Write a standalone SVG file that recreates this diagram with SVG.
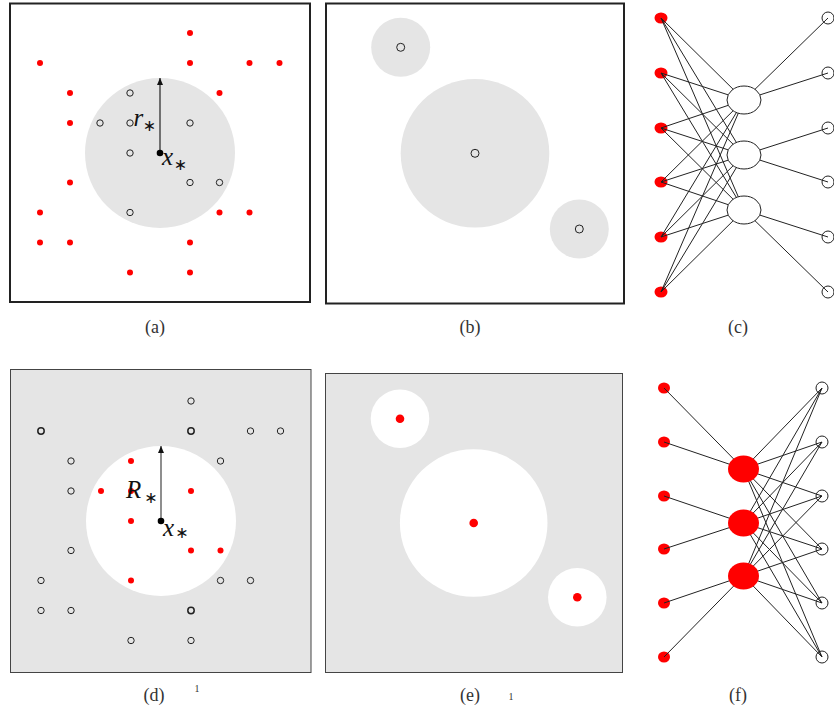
<svg xmlns="http://www.w3.org/2000/svg" width="834" height="717" viewBox="0 0 834 717">
<defs>
<style>
.frameA{fill:#fff;stroke:#222;stroke-width:2}
.frameD{fill:#e5e5e5;stroke:#444;stroke-width:1}
.red{fill:#ff0000}
.open{fill:none;stroke:#222;stroke-width:1}
.openw{fill:#fff;stroke:#222;stroke-width:1}
.edge{stroke:#222;stroke-width:1;fill:none}
.cap{font-family:"Liberation Serif","DejaVu Serif",serif;font-size:18px;fill:#333;text-anchor:middle}
.sup{font-family:"Liberation Serif","DejaVu Serif",serif;font-size:10px;fill:#333;text-anchor:middle}
.math{font-family:"Liberation Serif","DejaVu Serif",serif;font-style:italic;font-size:25px;fill:#111}
.ast{font-family:"DejaVu Sans",sans-serif;font-size:16px;fill:#111;text-anchor:middle}
</style>
<marker id="ah" viewBox="0 0 7 6" refX="7" refY="3" markerWidth="7" markerHeight="6" markerUnits="userSpaceOnUse" orient="auto">
<path d="M0,0 L7,3 L0,6 Z" fill="#111"/>
</marker>
</defs>

<!-- Panel (a) -->
<g id="panel-a">
<rect class="frameA" x="10" y="3.5" width="300" height="298.5"/>
<circle cx="160" cy="153" r="75" fill="#e5e5e5"/>
<g class="red">
<circle cx="190" cy="33" r="3"/>
<circle cx="40" cy="63" r="3"/><circle cx="190" cy="63" r="3"/><circle cx="249.5" cy="63" r="3"/><circle cx="279.5" cy="63" r="3"/>
<circle cx="70" cy="93" r="3"/><circle cx="219.5" cy="93" r="3"/>
<circle cx="70" cy="123" r="3"/>
<circle cx="70" cy="182.5" r="3"/>
<circle cx="40" cy="212.5" r="3"/><circle cx="219.5" cy="212.5" r="3"/><circle cx="249.5" cy="212.5" r="3"/>
<circle cx="40" cy="242.5" r="3"/><circle cx="70" cy="242.5" r="3"/><circle cx="190" cy="242.5" r="3"/>
<circle cx="130" cy="272.5" r="3"/><circle cx="190" cy="272.5" r="3"/>
</g>
<g class="open">
<circle cx="130" cy="93" r="3.2"/>
<circle cx="100" cy="123" r="3.2"/><circle cx="130" cy="123" r="3.2"/><circle cx="190" cy="123" r="3.2"/>
<circle cx="130" cy="153" r="3.2"/>
<circle cx="190" cy="182.5" r="3.2"/><circle cx="219.5" cy="182.5" r="3.2"/>
<circle cx="130" cy="212.5" r="3.2"/>
</g>
<line x1="160" y1="153" x2="160" y2="78" stroke="#222" stroke-width="1.2" marker-end="url(#ah)"/>
<circle cx="160" cy="153" r="3.3" fill="#000"/>
<text class="math" x="133.5" y="126">r</text><text class="ast" x="149.5" y="131">∗</text>
<text class="math" x="162" y="165">x</text><text class="ast" x="180.5" y="170">∗</text>
<text class="cap" x="155" y="333">(a)</text>
</g>

<!-- Panel (b) -->
<g id="panel-b">
<rect class="frameA" x="326" y="3.5" width="298" height="300"/>
<circle cx="400.7" cy="47.3" r="29.5" fill="#e5e5e5"/>
<circle cx="475" cy="153.3" r="74.3" fill="#e5e5e5"/>
<circle cx="579.3" cy="229" r="29.5" fill="#e5e5e5"/>
<circle class="open" cx="400.7" cy="47.3" r="4"/>
<circle class="open" cx="475" cy="153.3" r="4"/>
<circle class="open" cx="579.3" cy="229" r="4"/>
<text class="cap" x="470" y="333">(b)</text>
</g>

<!-- Panel (c) -->
<g id="panel-c">
<g id="c-left">
<ellipse id="c-l1" class="red" cx="661" cy="18" rx="6.5" ry="5.5"/>
<ellipse id="c-l2" class="red" cx="661" cy="73" rx="6.5" ry="5.5"/>
<ellipse id="c-l3" class="red" cx="661" cy="128" rx="6.5" ry="5.5"/>
<ellipse id="c-l4" class="red" cx="661" cy="182" rx="6.5" ry="5.5"/>
<ellipse id="c-l5" class="red" cx="661" cy="237" rx="6.5" ry="5.5"/>
<ellipse id="c-l6" class="red" cx="661" cy="292" rx="6.5" ry="5.5"/>
</g>
<g id="c-right">
<circle id="c-r1" class="openw" cx="828" cy="18" r="6"/>
<circle id="c-r2" class="openw" cx="828" cy="73" r="6"/>
<circle id="c-r3" class="openw" cx="828" cy="128" r="6"/>
<circle id="c-r4" class="openw" cx="828" cy="182" r="6"/>
<circle id="c-r5" class="openw" cx="828" cy="237" r="6"/>
<circle id="c-r6" class="openw" cx="828" cy="292" r="6"/>
</g>
<g id="c-edges" class="edge">
<path d="M661,18L744,100M661,18L744,155M661,18L744,210
M661,73L744,100M661,73L744,155M661,73L744,210
M661,128L744,100M661,128L744,155M661,128L744,210
M661,182L744,100M661,182L744,155M661,182L744,210
M661,237L744,100M661,237L744,155M661,237L744,210
M661,292L744,100M661,292L744,155M661,292L744,210
M744,100L828,18M744,100L828,73
M744,155L828,128M744,155L828,182
M744,210L828,237M744,210L828,292"/>
</g>
<g id="c-m1"><ellipse class="openw" cx="744" cy="100" rx="17" ry="14"/></g>
<g id="c-m2"><ellipse class="openw" cx="744" cy="155" rx="17" ry="14"/></g>
<g id="c-m3"><ellipse class="openw" cx="744" cy="210" rx="17" ry="14"/></g>
<text class="cap" x="738" y="333">(c)</text>
</g>

<!-- Panel (d) -->
<g id="panel-d">
<rect class="frameD" x="10.5" y="369.5" width="300.5" height="303"/>
<circle cx="161" cy="521" r="75" fill="#fff"/>
<g class="open">
<circle cx="191" cy="401" r="3.2"/>
<circle cx="41" cy="431" r="3.2" stroke-width="1.5"/><circle cx="191" cy="431" r="3.2" stroke-width="1.5"/><circle cx="250.5" cy="431" r="3.2"/><circle cx="280.5" cy="431" r="3.2"/>
<circle cx="71" cy="461" r="3.2"/><circle cx="220.5" cy="461" r="3.2"/>
<circle cx="71" cy="491" r="3.2"/>
<circle cx="71" cy="550.5" r="3.2"/>
<circle cx="41" cy="580.5" r="3.2"/><circle cx="220.5" cy="580.5" r="3.2"/><circle cx="250.5" cy="580.5" r="3.2"/>
<circle cx="41" cy="610.5" r="3.2"/><circle cx="71" cy="610.5" r="3.2"/><circle cx="191" cy="610.5" r="3.2" stroke-width="1.5"/>
<circle cx="131" cy="640.5" r="3.2"/><circle cx="191" cy="640.5" r="3.2"/>
</g>
<g class="red">
<circle cx="131" cy="461" r="3"/>
<circle cx="101" cy="491" r="3"/><circle cx="131" cy="491" r="3"/><circle cx="191" cy="491" r="3"/>
<circle cx="131" cy="521" r="3"/>
<circle cx="191" cy="550.5" r="3"/><circle cx="220.5" cy="550.5" r="3"/>
<circle cx="131" cy="580.5" r="3"/>
</g>
<line x1="161" y1="521" x2="161" y2="446" stroke="#444" stroke-width="1.2" marker-end="url(#ah)"/>
<circle cx="161" cy="521" r="3.3" fill="#000"/>
<text class="math" x="126" y="498" font-size="28">R</text><text class="ast" x="151" y="503">∗</text>
<text class="math" x="163" y="536">x</text><text class="ast" x="182" y="538">∗</text>
<text class="cap" x="154" y="701">(d)</text>
<text class="sup" x="197" y="692">1</text>
</g>

<!-- Panel (e) -->
<g id="panel-e">
<rect class="frameD" x="325.5" y="373.5" width="297" height="299"/>
<circle cx="400" cy="418.7" r="29.3" fill="#fff"/>
<circle cx="473.7" cy="523" r="73.8" fill="#fff"/>
<circle cx="577.3" cy="597.3" r="29.3" fill="#fff"/>
<circle class="red" cx="400" cy="418.7" r="4.3"/>
<circle class="red" cx="473.7" cy="523" r="4.3"/>
<circle class="red" cx="577.3" cy="597.3" r="4.3"/>
<text class="cap" x="470" y="701">(e)</text>
<text class="sup" x="511" y="700">1</text>
</g>

<!-- Panel (f) -->
<g id="panel-f">
<g id="f-left">
<ellipse id="f-l1" class="red" cx="664" cy="388" rx="6" ry="5.5"/>
<ellipse id="f-l2" class="red" cx="664" cy="442" rx="6" ry="5.5"/>
<ellipse id="f-l3" class="red" cx="664" cy="496" rx="6" ry="5.5"/>
<ellipse id="f-l4" class="red" cx="664" cy="549" rx="6" ry="5.5"/>
<ellipse id="f-l5" class="red" cx="664" cy="603" rx="6" ry="5.5"/>
<ellipse id="f-l6" class="red" cx="664" cy="657" rx="6" ry="5.5"/>
</g>
<g id="f-right">
<circle id="f-r1" class="openw" cx="822" cy="388" r="6"/>
<circle id="f-r2" class="openw" cx="822" cy="442" r="6"/>
<circle id="f-r3" class="openw" cx="822" cy="496" r="6"/>
<circle id="f-r4" class="openw" cx="822" cy="549" r="6"/>
<circle id="f-r5" class="openw" cx="822" cy="603" r="6"/>
<circle id="f-r6" class="openw" cx="822" cy="657" r="6"/>
</g>
<g id="f-edges" class="edge">
<path d="M664,388L743.5,469M664,442L743.5,469
M664,496L743.5,523M664,549L743.5,523
M664,603L743.5,576M664,657L743.5,576
M743.5,469L822,388M743.5,469L822,442M743.5,469L822,496M743.5,469L822,549M743.5,469L822,603M743.5,469L822,657
M743.5,523L822,388M743.5,523L822,442M743.5,523L822,496M743.5,523L822,549M743.5,523L822,603M743.5,523L822,657
M743.5,576L822,388M743.5,576L822,442M743.5,576L822,496M743.5,576L822,549M743.5,576L822,603M743.5,576L822,657"/>
</g>
<g id="f-m1"><ellipse class="red" cx="743.5" cy="469" rx="15.5" ry="13.5"/></g>
<g id="f-m2"><ellipse class="red" cx="743.5" cy="523" rx="15.5" ry="13.5"/></g>
<g id="f-m3"><ellipse class="red" cx="743.5" cy="576" rx="15.5" ry="13.5"/></g>
<text class="cap" x="738" y="701">(f)</text>
</g>
</svg>
